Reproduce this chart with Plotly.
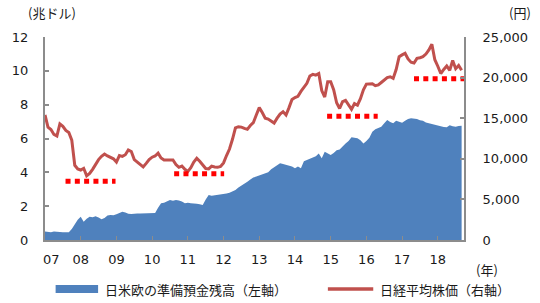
import plotly.graph_objects as go

# ---- data (monthly, t = months since end of 2007) ----
months = list(range(141))

reserves = [
    0.50, 0.48, 0.46, 0.50, 0.47, 0.48, 0.46, 0.45, 0.46, 0.65,
    0.95, 1.20, 1.38, 1.08, 1.25, 1.38, 1.35, 1.40, 1.33, 1.22,
    1.30, 1.45, 1.48, 1.47, 1.52, 1.62, 1.67, 1.62, 1.55, 1.53,
    1.57, 1.57, 1.56, 1.57, 1.57, 1.58, 1.58, 1.60, 1.90, 2.17,
    2.20, 2.30, 2.36, 2.32, 2.36, 2.33, 2.28, 2.17, 2.20, 2.17,
    2.18, 2.15, 2.12, 2.07, 2.40, 2.66, 2.62, 2.64, 2.66, 2.68,
    2.72, 2.75, 2.80, 2.86, 2.95, 3.10, 3.20, 3.35, 3.45, 3.58,
    3.70, 3.75, 3.82, 3.85, 3.92, 4.00, 4.18, 4.30, 4.40, 4.53,
    4.50, 4.45, 4.43, 4.35, 4.24, 4.35, 4.24, 4.65, 4.73, 4.80,
    4.85, 4.95, 5.12, 4.83, 5.22, 5.10, 5.02, 5.15, 5.30, 5.35,
    5.55, 5.71, 5.85, 6.07, 6.05, 6.01, 5.90, 5.71, 5.85, 6.05,
    6.40, 6.55, 6.62, 6.70, 6.90, 7.09, 6.98, 6.90, 7.05, 7.00,
    6.93, 7.05, 7.15, 7.19, 7.19, 7.15, 7.08, 7.05, 6.95, 6.90,
    6.85, 6.80, 6.75, 6.70, 6.68, 6.66, 6.78, 6.72, 6.70, 6.74,
    6.75,
]

nikkei = [
    15400, 13900, 13600, 13000, 12800, 14300, 14000, 13500, 13250, 12300,
    9200, 8750, 8620, 8830, 7900, 8200, 8700, 9300, 9900, 10300,
    10590, 10350, 10200, 10000, 9600, 10400, 10300, 10500, 11080, 10900,
    9900, 9600, 9400, 9000, 9440, 9900, 10200, 10350, 10700, 10100,
    9850, 9850, 9800, 9850, 9300, 8950, 9100, 8700, 8450, 8900,
    9600, 10060, 9700, 9200, 8800, 8750, 9100, 9000, 8950, 9050,
    9500, 10400, 11200, 12400, 13800, 13950, 13900, 13750, 13630, 14100,
    14450, 15400, 16300, 15700, 15000, 14900, 14700, 14400, 15000, 15500,
    15800, 15400, 16300, 17300, 17550, 17700, 18300, 18880, 19300, 20200,
    20400, 20300, 20500, 18400, 17600, 19500, 19500, 18500, 16900, 16200,
    17030, 17200, 16600, 16100, 16800, 16600, 17400, 18500, 19200, 19210,
    19250, 19000, 19100, 19400, 19700, 20000, 20100, 19900, 21000, 22570,
    22800, 23000, 22300, 21900, 21800, 22370, 22450, 22570, 22900, 23400,
    24100, 22200, 21400, 20500, 21000, 21430, 20900, 22100, 21100, 21500,
    20900,
]

year_ticks = [0, 12, 24, 36, 48, 60, 72, 84, 96, 108, 120, 132]
year_labels = ["\u00a0\u00a0\u00a007", "08", "09", "10", "11", "12", "13",
               "14", "15", "16", "17", "18"]

support_levels = [7250, 8150, 15250, 19850]
support_start = [6.9, 43.4, 94.8, 124.0]
support_end = [23.7, 60.2, 111.8, 140.8]

# ---- styles ----
BLUE = "#4F81BD"
RED = "#C0504D"
DOT = "#FF0000"
AX = "#8C8C8C"
TXT = "#1a1a1a"
NUMFONT = dict(family="DejaVu Sans", size=13, color=TXT)
JPFONT = dict(family="Noto Sans CJK JP", size=13, color=TXT)

fig = go.Figure()
fig.add_trace(go.Scatter(
    x=months, y=reserves, mode="lines", fill="tozeroy",
    line=dict(width=0, color=BLUE), fillcolor=BLUE, yaxis="y",
    showlegend=False, hoverinfo="skip"))
fig.add_trace(go.Scatter(
    x=months, y=nikkei, mode="lines", line=dict(width=3, color=RED),
    yaxis="y2", showlegend=False, hoverinfo="skip"))
for lv, s, e in zip(support_levels, support_start, support_end):
    fig.add_trace(go.Scatter(
        x=[s, e], y=[lv, lv], mode="lines",
        line=dict(width=5, color=DOT, dash="5px,4.3px"),
        yaxis="y2", showlegend=False, hoverinfo="skip"))

L, R, T, B = 32, 74, 37, 63
W, H = 540, 303
pw, ph = W - L - R, H - T - B


def px(x):
    return (x - L) / pw


def py(y):
    return (H - B - y) / ph


fig.update_layout(
    width=W, height=H, margin=dict(l=L, r=R, t=T, b=B),
    paper_bgcolor="white", plot_bgcolor="white", showlegend=False,
    xaxis=dict(range=[0, 140.8], tickvals=year_ticks, ticktext=year_labels,
               ticks="inside", ticklen=4, tickcolor=AX, tickwidth=1,
               showline=True, linecolor=AX, linewidth=2, showgrid=False,
               zeroline=False, tickfont=NUMFONT, ticklabelstandoff=6),
    yaxis=dict(range=[0, 12], dtick=2, ticks="inside", ticklen=4,
               tickcolor=AX, tickwidth=1.5, showline=True, linecolor=AX,
               linewidth=2, showgrid=False, zeroline=False, tickfont=NUMFONT,
               ticklabelstandoff=12),
    yaxis2=dict(range=[0, 25000], dtick=5000, overlaying="y", side="right",
                ticks="inside", ticklen=4, tickcolor=AX, tickwidth=1.5,
                showline=True, linecolor=AX, linewidth=2, showgrid=False,
                zeroline=False, tickfont=NUMFONT, tickformat=",d",
                ticklabelstandoff=14),
)

ann = [
    dict(text="(兆ドル)", x=px(12), y=py(13), xanchor="left", yanchor="middle"),
    dict(text="(円)", x=px(537), y=py(13), xanchor="right", yanchor="middle"),
    dict(text="(年)", x=px(503), y=py(269), xanchor="right", yanchor="middle"),
    dict(text="日米欧の準備預金残高（左軸）", x=px(92), y=py(289),
         xanchor="left", yanchor="middle"),
    dict(text="日経平均株価（右軸）", x=px(377), y=py(289),
         xanchor="left", yanchor="middle"),
]
for a in ann:
    a.update(xref="paper", yref="paper", showarrow=False, font=JPFONT)
fig.update_layout(annotations=ann)

fig.add_shape(type="rect", xref="paper", yref="paper",
              x0=px(43), x1=px(87), y0=py(285), y1=py(293),
              fillcolor=BLUE, line=dict(width=0))
fig.add_shape(type="line", xref="paper", yref="paper",
              x0=px(325), x1=px(372), y0=py(289), y1=py(289),
              line=dict(color=RED, width=3.5))

fig.write_html("out.html")
